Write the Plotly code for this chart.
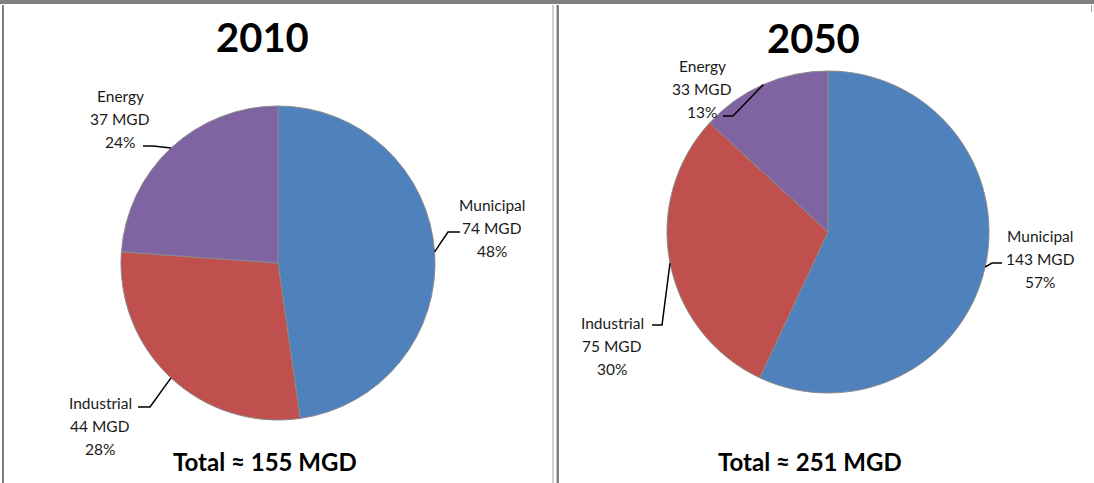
import math
import plotly.graph_objects as go

# ---- data ----
categories = ["Municipal", "Industrial", "Energy"]
years = ["2010", "2050"]
mgd_2010 = [74, 44, 37]
mgd_2050 = [143, 75, 33]
pct_2010 = [48, 28, 24]
pct_2050 = [57, 30, 13]
totals = [155, 251]
colors = ["#4F81BD", "#C0504D", "#8064A2"]

W, H = 1094, 483
FONT = "Lato"


def px(x):
    return x / W


def py(y):
    return 1 - y / H


# layout of each panel (pixel geometry)
panels = [
    dict(year=years[0], vals=mgd_2010, pcts=pct_2010, total=totals[0],
         cx=278, cy=263, r=157, title=(262, 37), tot=(265, 461),
         labels={
             "Municipal": dict(tx=492, ty=205, e1=(460, 232), e2=(448, 232)),
             "Industrial": dict(tx=100, ty=403, e1=(138, 407), e2=(150, 407)),
             "Energy": dict(tx=120, ty=96, e1=(143, 146), e2=(153, 146)),
         }),
    dict(year=years[1], vals=mgd_2050, pcts=pct_2050, total=totals[1],
         cx=828, cy=232, r=161, title=(813, 38), tot=(810, 461),
         labels={
             "Municipal": dict(tx=1040, ty=236, e1=(1002, 263), e2=(992, 263)),
             "Industrial": dict(tx=612, ty=323, e1=(652, 325), e2=(662, 325)),
             "Energy": dict(tx=702, ty=66, e1=(723, 116), e2=(733, 116)),
         }),
]

fig = go.Figure()
annotations = []
shapes = []


def ann(text, x, y, size, color="black"):
    return dict(text=text, x=px(x), y=py(y), xref="paper", yref="paper",
                xanchor="center", yanchor="middle", showarrow=False,
                font=dict(family=FONT, size=size, color=color))


for p in panels:
    cx, cy, r = p["cx"], p["cy"], p["r"]
    fig.add_trace(go.Pie(
        labels=categories, values=p["vals"], sort=False, direction="clockwise",
        rotation=0, textinfo="none", showlegend=False,
        marker=dict(colors=colors, line=dict(color="#8a8a8a", width=1)),
        domain=dict(x=[px(cx - r), px(cx + r)], y=[py(cy + r), py(cy - r)]),
    ))
    annotations.append(ann(f"<b>{p['year']}</b>", *p["title"], 40))
    annotations.append(ann(f"<b>Total ≈ {p['total']} MGD</b>", *p["tot"], 24))
    tot = sum(p["vals"])
    cum = 0
    for cat, v, pc in zip(categories, p["vals"], p["pcts"]):
        mid = (cum + v / 2) / tot * 2 * math.pi
        cum += v
        ex = cx + r * math.sin(mid)
        ey = cy - r * math.cos(mid)
        lab = p["labels"][cat]
        lines = [cat, f"{v} MGD", f"{pc}%"]
        for i, t in enumerate(lines):
            annotations.append(ann(t, lab["tx"], lab["ty"] + 23 * i, 15.5, "#1a1a1a"))
        (x1, y1), (x2, y2) = lab["e1"], lab["e2"]
        shapes.append(dict(type="path", xref="paper", yref="paper",
                           path=f"M {px(x1)},{py(y1)} L {px(x2)},{py(y2)} L {px(ex)},{py(ey)}",
                           line=dict(color="black", width=1.5)))

# panel frame decorations
gray = "#7f7f7f"
shapes += [
    dict(type="rect", xref="paper", yref="paper", x0=0, x1=1, y0=py(4), y1=1,
         fillcolor=gray, line=dict(width=0)),
    dict(type="rect", xref="paper", yref="paper", x0=px(2), x1=px(4), y0=0, y1=py(5),
         fillcolor=gray, line=dict(width=0)),
    dict(type="rect", xref="paper", yref="paper", x0=px(552.5), x1=px(553.5), y0=0, y1=py(5),
         fillcolor="#a0a0a0", line=dict(width=0)),
    dict(type="rect", xref="paper", yref="paper", x0=px(556.5), x1=px(559), y0=0, y1=py(5),
         fillcolor=gray, line=dict(width=0)),
    dict(type="rect", xref="paper", yref="paper", x0=px(1091), x1=px(1092), y0=py(12), y1=py(5),
         fillcolor="#a0a0a0", line=dict(width=0)),
]

fig.update_layout(
    width=W, height=H, margin=dict(l=0, r=0, t=0, b=0),
    paper_bgcolor="white", plot_bgcolor="white",
    annotations=annotations, shapes=shapes,
)

fig.write_html("out.html")
